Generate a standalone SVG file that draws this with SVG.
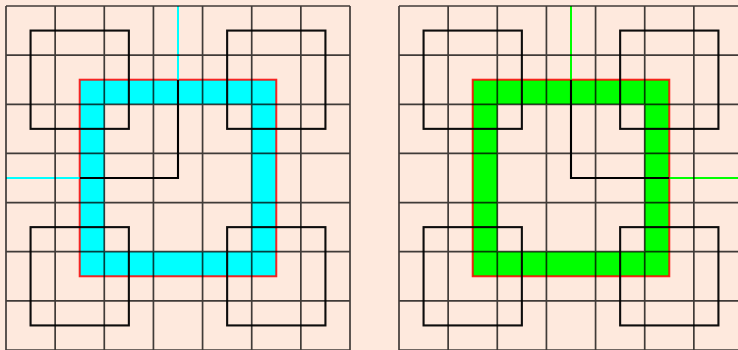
<svg xmlns="http://www.w3.org/2000/svg" width="738" height="350" viewBox="0 0 738 350">
  <style>
    .bg { fill: #fee9dd; }
    .grid { fill: none; stroke: #000; stroke-opacity: 0.75; stroke-width: 1.7; }
    .sq { fill: none; stroke: #000; stroke-opacity: 0.95; stroke-width: 2.1; }
    .lpath { fill: none; stroke: #000; stroke-width: 2.1; }
    .outline { fill: none; stroke: #ff0000; stroke-opacity: 0.85; stroke-width: 2; }
    .ringc { fill: #00ffff; fill-rule: evenodd; stroke: none; }
    .ringg { fill: #00ff00; fill-rule: evenodd; stroke: none; }
    .thinc { fill: none; stroke: #00ffff; stroke-width: 2; }
    .thing { fill: none; stroke: #00ff00; stroke-width: 2; }
  </style>
  <defs>
    <path id="ring" d="M79.71,79.71 H276.29 V276.29 H79.71 Z M104.29,104.29 V251.71 H251.71 V104.29 Z"/>
    <path id="gridlines" d="M6,6 V350 M55.14,6 V350 M104.29,6 V350 M153.43,6 V350 M202.57,6 V350 M251.71,6 V350 M300.86,6 V350 M350,6 V350 M6,6 H350 M6,55.14 H350 M6,104.29 H350 M6,153.43 H350 M6,202.57 H350 M6,251.71 H350 M6,300.86 H350 M6,350 H350"/>
    <g id="squares">
      <rect x="30.57" y="30.57" width="98.29" height="98.29"/>
      <rect x="227.14" y="30.57" width="98.29" height="98.29"/>
      <rect x="30.57" y="227.14" width="98.29" height="98.29"/>
      <rect x="227.14" y="227.14" width="98.29" height="98.29"/>
    </g>
  </defs>
  <rect class="bg" x="0" y="0" width="738" height="350"/>

  <g id="panel-left">
    <use href="#ring" class="ringc"/>
    <rect class="outline" x="79.71" y="79.71" width="196.57" height="196.57"/>
    <path class="thinc" d="M178,6 V79.71 M6,178 H79.71"/>
    <use href="#gridlines" class="grid"/>
    <use href="#squares" class="sq"/>
    <path class="lpath" d="M178,79.71 V178 H79.71"/>
  </g>

  <g id="panel-right" transform="translate(393,0)">
    <use href="#ring" class="ringg"/>
    <rect class="outline" x="79.71" y="79.71" width="196.57" height="196.57"/>
    <path class="thing" d="M178,6 V79.71 M276.29,178 H350"/>
    <use href="#gridlines" class="grid"/>
    <use href="#squares" class="sq"/>
    <path class="lpath" d="M178,79.71 V178 H276.29"/>
  </g>
</svg>
